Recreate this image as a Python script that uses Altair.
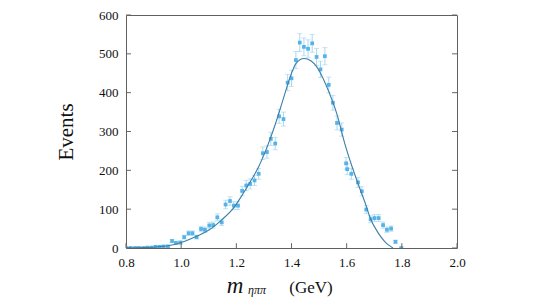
import altair as alt
import pandas as pd

# ---- data ----
mass = [0.802, 0.817, 0.833, 0.847, 0.863, 0.877, 0.892, 0.907, 0.922, 0.936,
        0.952, 0.967, 0.981, 0.997, 1.011, 1.027, 1.041, 1.056, 1.072, 1.086,
        1.102, 1.116, 1.131, 1.147, 1.161, 1.177, 1.191, 1.206, 1.221, 1.236,
        1.250, 1.266, 1.281, 1.296, 1.311, 1.325, 1.341, 1.355, 1.371, 1.386,
        1.400, 1.416, 1.430, 1.445, 1.460, 1.475, 1.491, 1.505, 1.521, 1.535,
        1.550, 1.565, 1.582, 1.598, 1.602, 1.617, 1.641, 1.655, 1.671, 1.687,
        1.701, 1.716, 1.732, 1.746, 1.761, 1.777, 1.798]
events = [0, 0, 0, 0, 0, 1, 1, 3, 3, 4,
          4, 18, 13, 14, 28, 38, 38, 28, 49, 47,
          58, 59, 79, 66, 112, 121, 109, 109, 147, 161,
          165, 174, 191, 244, 247, 281, 269, 339, 332, 426,
          437, 484, 529, 518, 513, 527, 492, 460, 494, 420,
          374, 322, 305, 218, 203, 191, 169, 146, 99, 74,
          77, 77, 59, 47, 50, 16, 0]
errors = [1, 1, 1, 1, 1, 1, 1, 2, 2, 2,
          2, 4, 4, 4, 5, 6, 6, 5, 7, 7,
          8, 8, 9, 8, 11, 11, 10, 10, 12, 13,
          13, 13, 14, 16, 16, 17, 16, 18, 18, 21,
          21, 22, 23, 23, 23, 23, 22, 21, 22, 20,
          19, 18, 17, 15, 14, 14, 13, 12, 10, 9,
          9, 9, 8, 7, 7, 4, 1]

fit_mass = [0.800, 0.863, 0.952, 1.011, 1.056, 1.102, 1.146, 1.191, 1.221, 1.250,
            1.280, 1.311, 1.341, 1.371, 1.400, 1.416, 1.445, 1.470, 1.491, 1.515,
            1.535, 1.565, 1.594, 1.617, 1.639, 1.669, 1.685, 1.714, 1.739, 1.755, 1.768]
fit_events = [0, 1, 6, 17, 30, 47, 72, 104, 136, 170,
              208, 259, 318, 386, 450, 475, 488, 482, 467, 436,
              403, 344, 267, 215, 170, 112, 78, 39, 16, 6, 0]

x_ticks = [0.8, 1.0, 1.2, 1.4, 1.6, 1.8, 2.0]
y_ticks = [0, 100, 200, 300, 400, 500, 600]
x_title_parts = ["m", "ηππ", "(GeV)"]
y_title = "Events"

SERIF = "Liberation Serif"
W, H = 331, 233

df = pd.DataFrame({"m": mass, "n": events, "e": errors})
df["lo"] = df["n"] - df["e"]
df["hi"] = df["n"] + df["e"]
fit = pd.DataFrame({"m": fit_mass, "n": fit_events})

xs = alt.Scale(domain=[0.8, 2.0], nice=False, zero=False)
ys = alt.Scale(domain=[0, 600], nice=False, zero=False)

xaxis = alt.Axis(values=x_ticks, format=".1f", ticks=False, domain=False, grid=False,
                 labelFont=SERIF, labelFontSize=13, labelColor="#111", labelPadding=8,
                 labelOverlap=False, labelFlush=False, labelBound=False,
                 title=None)
yaxis = alt.Axis(values=y_ticks, format="d", ticks=False, domain=False, grid=False,
                 labelFont=SERIF, labelFontSize=13, labelColor="#111", labelPadding=8,
                 labelOverlap=False, labelFlush=False, labelBound=False,
                 title=y_title, titleFont=SERIF, titleFontSize=21, titleFontWeight="normal",
                 titleColor="#111", titlePadding=22)

base = alt.Chart(df)

bars = base.mark_rule(color="#a9d8f2", strokeWidth=1, clip=True).encode(
    x=alt.X("m:Q", scale=xs, axis=xaxis),
    y=alt.Y("lo:Q", scale=ys, axis=yaxis),
    y2="hi:Q",
)
cap_lo = base.mark_tick(orient="horizontal", size=5, thickness=1, color="#a9d8f2", clip=True).encode(
    x=alt.X("m:Q", scale=xs, axis=xaxis), y=alt.Y("lo:Q", scale=ys, axis=yaxis))
cap_hi = base.mark_tick(orient="horizontal", size=5, thickness=1, color="#a9d8f2", clip=True).encode(
    x=alt.X("m:Q", scale=xs, axis=xaxis), y=alt.Y("hi:Q", scale=ys, axis=yaxis))
pts = base.mark_square(size=14, color="#55b3e8", opacity=1, clip=True).encode(
    x=alt.X("m:Q", scale=xs, axis=xaxis), y=alt.Y("n:Q", scale=ys, axis=yaxis))

line = alt.Chart(fit).mark_line(color="#3d7ea6", strokeWidth=1.1, interpolate="monotone", clip=True).encode(
    x=alt.X("m:Q", scale=xs, axis=xaxis), y=alt.Y("n:Q", scale=ys, axis=yaxis))

# inward ticks
bt = pd.DataFrame({"x": x_ticks, "y": [0] * len(x_ticks), "y2": [12.5] * len(x_ticks)})
lt = pd.DataFrame({"y": y_ticks, "x": [0.8] * len(y_ticks), "x2": [0.818] * len(y_ticks)})
rt = pd.DataFrame({"y": y_ticks, "x": [1.982] * len(y_ticks), "x2": [2.0] * len(y_ticks)})
tick_b = alt.Chart(bt).mark_rule(color="#666", strokeWidth=1).encode(
    x=alt.X("x:Q", scale=xs, axis=xaxis), y=alt.Y("y:Q", scale=ys, axis=yaxis), y2="y2:Q")
tick_l = alt.Chart(lt).mark_rule(color="#666", strokeWidth=1).encode(
    y=alt.Y("y:Q", scale=ys, axis=yaxis), x=alt.X("x:Q", scale=xs, axis=xaxis), x2="x2:Q")
tick_r = alt.Chart(rt).mark_rule(color="#666", strokeWidth=1).encode(
    y=alt.Y("y:Q", scale=ys, axis=yaxis), x=alt.X("x:Q", scale=xs, axis=xaxis), x2="x2:Q")

# x title built from parts
t_m = alt.Chart(pd.DataFrame({"t": [x_title_parts[0]]})).mark_text(
    font=SERIF, fontStyle="italic", fontSize=23, align="center", baseline="alphabetic", color="#111"
).encode(text="t:N", x=alt.value(109), y=alt.value(278))
t_sub = alt.Chart(pd.DataFrame({"t": [x_title_parts[1]]})).mark_text(
    font=SERIF, fontStyle="italic", fontSize=12, align="center", baseline="alphabetic", color="#111"
).encode(text="t:N", x=alt.value(131), y=alt.value(279))
t_gev = alt.Chart(pd.DataFrame({"t": [x_title_parts[2]]})).mark_text(
    font=SERIF, fontSize=17, align="center", baseline="alphabetic", color="#111"
).encode(text="t:N", x=alt.value(185), y=alt.value(278))

chart = alt.layer(bars, cap_lo, cap_hi, pts, line, tick_b, tick_l, tick_r, t_m, t_sub, t_gev).properties(
    width=W, height=H,
    autosize=alt.AutoSizeParams(type="none"),
    padding={"left": 118, "top": 7, "right": 60, "bottom": 51},
    background="white",
).configure_view(stroke="#606060", strokeWidth=1).configure_axis(labelOverlap=False)

chart.save("out.html", embed_options={"renderer": "svg", "actions": False})
